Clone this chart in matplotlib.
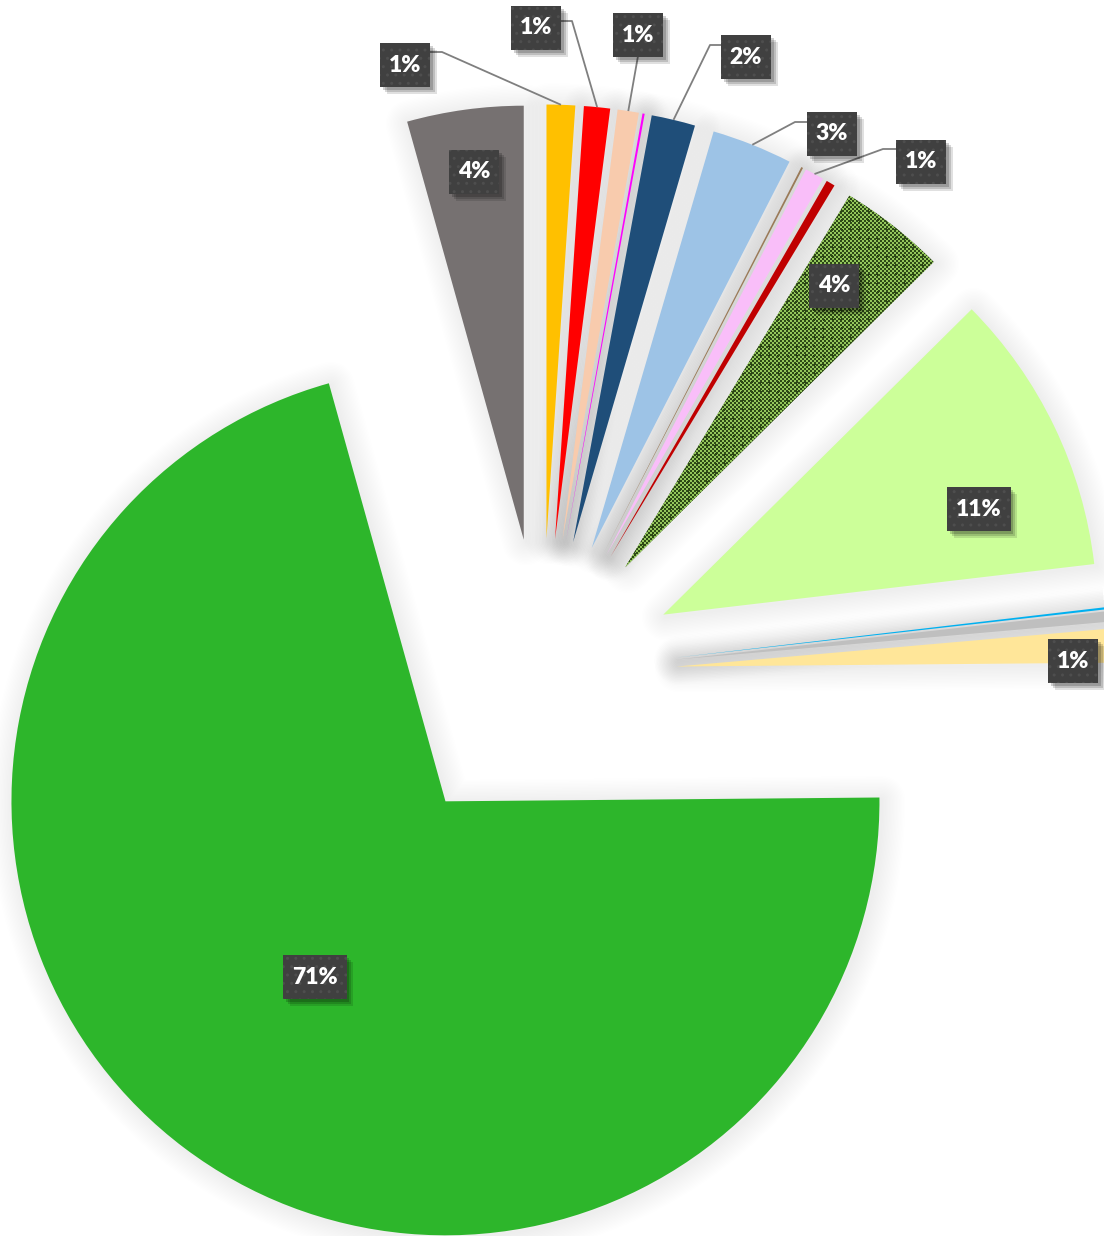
import matplotlib
matplotlib.use("Agg")
import matplotlib.pyplot as plt
import matplotlib.patheffects as pe
import numpy as np

# ---------------- data ----------------
categories = ["S1", "S2", "S3", "S4", "S5", "S6", "S7", "S8",
              "S9", "S10", "S11", "S12", "S13", "S14", "S15", "S16"]
values = [1.06, 0.97, 0.79, 0.08, 1.63, 3.00, 0.07, 0.71,
          0.33, 3.94, 10.56, 0.08, 0.39, 1.25, 70.81, 4.33]
colors = ["#FFC000", "#FF0000", "#F8CBAD", "#FF00FF", "#1F4E79", "#9DC3E6",
          "#9A7A58", "#F9BEF9", "#C00000", "#5A7F3E", "#CCFF99", "#00B0F0",
          "#BFBFBF", "#FFE699", "#2DB62B", "#767171"]
explode = [0.31] * 14 + [0.37, 0.31]
PATTERN_SLICE = 9

# ---------------- layout (pixels of the 1104x1236 canvas) ----------------
W, H = 1104, 1236
CX, CY, S = 542.0, 673.0, 434.0     # pie centre and radius in pixels

def X(px):
    return (px - CX) / S

def Y(py):
    return (CY - py) / S

# label box centres and leader elbows (pixels)
label_layout = {
    0: ((405, 65), [(430, 52), (442, 52)]),
    1: ((536, 28), [(561, 21), (572, 21)]),
    2: ((638, 35), [(638, 56)]),
    4: ((746, 57), [(721, 45), (710, 45)]),
    5: ((832, 134), [(807, 122), (795, 122)]),
    7: ((921, 162), [(897, 149), (883, 149)]),
    9: ((834, 286), None),
    10: ((979, 509), None),
    13: ((1073, 661), None),
    14: ((315, 977), None),
    15: ((474, 172), None),
}


class NoHatchShadow(pe.SimplePatchShadow):
    def draw_path(self, renderer, gc, tpath, affine, rgbFace):
        h = gc.get_hatch()
        gc.set_hatch(None)
        super().draw_path(renderer, gc, tpath, affine, rgbFace)
        gc.set_hatch(h)


fig = plt.figure(figsize=(W / 100, H / 100), dpi=100)
ax = fig.add_axes([0, 0, 1, 1])
ax.set_xlim(X(0), X(W))
ax.set_ylim(Y(H), Y(0))

# soft shadow pass
sh_wedges, _ = ax.pie(values, explode=explode, startangle=90, counterclock=False,
                      radius=1, center=(0, 0),
                      wedgeprops=dict(facecolor="none", edgecolor="none"))
effects = [pe.Stroke(linewidth=w, foreground="black", alpha=0.005,
                     joinstyle="round", offset=(1.5, -1.5))
           for w in np.linspace(2, 34, 17)]
for w in sh_wedges:
    w.set_path_effects(effects)
    w.set_zorder(1)

# real slices
wedges, _ = ax.pie(values, colors=colors, explode=explode, startangle=90,
                   counterclock=False, radius=1, center=(0, 0),
                   wedgeprops=dict(linewidth=0))
for w in wedges:
    w.set_zorder(2)

# small-checker pattern fill for the patterned slice
jj, ii = np.meshgrid(np.arange(W), np.arange(H))
checker = ((ii // 2 + jj // 2) % 2).astype(float)
dark = np.array([0.18, 0.29, 0.09])
light = np.array([0.58, 0.78, 0.36])
tex = light[None, None, :] * checker[..., None] + dark[None, None, :] * (1 - checker[..., None])
plus = ((ii % 9 == 4) & (jj % 9 >= 3) & (jj % 9 <= 5)) | ((jj % 9 == 4) & (ii % 9 >= 3) & (ii % 9 <= 5))
tex[plus] = dark
im = ax.imshow(tex, extent=(X(0), X(W), Y(H), Y(0)), origin="upper",
               interpolation="nearest", zorder=2.5, aspect="auto")
im.set_clip_path(wedges[PATTERN_SLICE])

# labels
for i, v in enumerate(values):
    if i not in label_layout or round(v) < 1:
        continue
    (bx, by), leader = label_layout[i]
    if leader is not None:
        w = wedges[i]
        mid = np.deg2rad((w.theta1 + w.theta2) / 2)
        ex = w.center[0] + w.r * np.cos(mid)
        ey = w.center[1] + w.r * np.sin(mid)
        xs = [X(p[0]) for p in leader] + [ex]
        ys = [Y(p[1]) for p in leader] + [ey]
        ax.plot(xs, ys, color="#7F7F7F", lw=1.3, zorder=5,
                solid_capstyle="butt")
    t = ax.text(X(bx), Y(by), f"{round(v)}%", ha="center", va="center",
                fontsize=16.5, fontweight="heavy", color="white",
                family=["Lato", "DejaVu Sans"], zorder=10,
                bbox=dict(boxstyle="square,pad=0.38", fc="#404040",
                          ec="#4E4E4E", lw=0, hatch="..", mutation_aspect=1.3))
    t.get_bbox_patch().set_path_effects(
        [NoHatchShadow(offset=(5, -5), shadow_rgbFace="black", alpha=0.12),
         NoHatchShadow(offset=(3.5, -3.5), shadow_rgbFace="black", alpha=0.15),
         NoHatchShadow(offset=(2, -2), shadow_rgbFace="black", alpha=0.18),
         pe.Normal()])

ax.set_aspect("auto")
ax.set_xlim(X(0), X(W))
ax.set_ylim(Y(H), Y(0))
ax.axis("off")

fig.savefig("out.png", dpi=100)
